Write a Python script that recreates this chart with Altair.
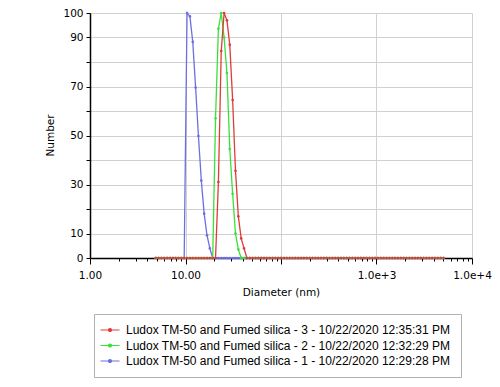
import altair as alt
import pandas as pd

# Size bins (nm), log-spaced
diameter_nm = [
    4.875, 5.222, 5.594, 5.991, 6.418, 6.874, 7.362, 7.886, 8.446, 9.047,
    9.691, 10.38, 11.12, 11.91, 12.76, 13.66, 14.64, 15.68, 16.79, 17.99,
    19.27, 20.63, 22.11, 23.67, 25.36, 27.16, 29.09, 31.16, 33.38, 35.75,
    38.30, 41.02, 43.94, 47.06, 50.42, 54.00, 57.84, 61.95, 66.36, 71.08,
    76.13, 81.55, 87.35, 93.57, 100.2, 107.4, 115.0, 123.2, 131.9, 141.3,
    151.4, 162.1, 173.7, 186.0, 199.3, 213.4, 228.6, 244.9, 262.3, 280.9,
    300.9, 322.3, 345.2, 369.8, 396.1, 424.2, 454.4, 486.7, 521.3, 558.5,
    598.2, 640.7, 686.3, 735.1, 787.4, 843.3, 903.3, 967.6, 1036, 1110,
    1189, 1274, 1364, 1461, 1565, 1676, 1796, 1923, 2060, 2207,
    2364, 2532, 2712, 2905, 3112, 3333, 3570, 3824, 4096, 4387,
    4699, 5033,
]

number_run1 = [
    0, 0, 0, 0, 0, 0, 0, 0, 0, 0,
    0, 100, 98.6, 88.2, 69.6, 49.8, 31.6, 18.1, 9.3, 3.9,
    0, 0, 0, 0, 0, 0, 0, 0, 0, 0,
    0, 0, 0, 0, 0, 0, 0, 0, 0, 0,
    0, 0, 0, 0, 0, 0, 0, 0, 0, 0,
    0, 0, 0, 0, 0, 0, 0, 0, 0, 0,
    0, 0, 0, 0, 0, 0, 0, 0, 0, 0,
    0, 0, 0, 0, 0, 0, 0, 0, 0, 0,
    0, 0, 0, 0, 0, 0, 0, 0, 0, 0,
    0, 0, 0, 0, 0, 0, 0, 0, 0, 0,
    0, 0,
]

number_run2 = [
    0, 0, 0, 0, 0, 0, 0, 0, 0, 0,
    0, 0, 0, 0, 0, 0, 0, 0, 0, 0,
    0, 57, 93.6, 100, 90, 75.5, 44.5, 26.2, 10, 3.5,
    0, 0, 0, 0, 0, 0, 0, 0, 0, 0,
    0, 0, 0, 0, 0, 0, 0, 0, 0, 0,
    0, 0, 0, 0, 0, 0, 0, 0, 0, 0,
    0, 0, 0, 0, 0, 0, 0, 0, 0, 0,
    0, 0, 0, 0, 0, 0, 0, 0, 0, 0,
    0, 0, 0, 0, 0, 0, 0, 0, 0, 0,
    0, 0, 0, 0, 0, 0, 0, 0, 0, 0,
    0, 0,
]

number_run3 = [
    0, 0, 0, 0, 0, 0, 0, 0, 0, 0,
    0, 0, 0, 0, 0, 0, 0, 0, 0, 0,
    0, 0, 31, 84.5, 100, 97, 87, 64.5, 35.6, 17,
    8, 3.9, 0, 0, 0, 0, 0, 0, 0, 0,
    0, 0, 0, 0, 0, 0, 0, 0, 0, 0,
    0, 0, 0, 0, 0, 0, 0, 0, 0, 0,
    0, 0, 0, 0, 0, 0, 0, 0, 0, 0,
    0, 0, 0, 0, 0, 0, 0, 0, 0, 0,
    0, 0, 0, 0, 0, 0, 0, 0, 0, 0,
    0, 0, 0, 0, 0, 0, 0, 0, 0, 0,
    0, 0,
]

series_names = [
    "Ludox TM-50 and Fumed silica - 1 - 10/22/2020 12:29:28 PM",
    "Ludox TM-50 and Fumed silica - 2 - 10/22/2020 12:32:29 PM",
    "Ludox TM-50 and Fumed silica - 3 - 10/22/2020 12:35:31 PM",
]
series_colors = ["#6e6ee2", "#3ae03a", "#e03a3a"]

x_tick_values = [1, 2, 3, 4, 5, 6, 7, 8, 9,
                 10, 20, 30, 40, 50, 60, 70, 80, 90,
                 100, 200, 300, 400, 500, 600, 700, 800, 900,
                 1000, 2000, 3000, 4000, 5000, 6000, 7000, 8000, 9000,
                 10000]
y_tick_values = [0, 10, 20, 30, 40, 50, 60, 70, 80, 90, 100]

rows = []
for name, vals in zip(series_names, [number_run1, number_run2, number_run3]):
    for d, v in zip(diameter_nm, vals):
        rows.append({"series": name, "Diameter": d, "Number": v})
df = pd.DataFrame(rows)

decade_test = "datum.value == 1 || datum.value == 10 || datum.value == 100 || datum.value == 1000 || datum.value == 10000"

x_axis = alt.Axis(
    title="Diameter (nm)",
    values=x_tick_values,
    labelExpr="datum.value == 1 ? '1.00' : datum.value == 10 ? '10.00' : datum.value == 1000 ? '1.0e+3' : datum.value == 10000 ? '1.0e+4' : ''",
    gridOpacity={"condition": {"test": decade_test, "value": 1}, "value": 0},
    tickSize={"condition": {"test": decade_test, "value": 6}, "value": 3},
    labelPadding=6,
    labelFlush=False,
    labelOverlap=False,
    titlePadding=7,
)

y_axis = alt.Axis(
    title="Number",
    values=y_tick_values,
    labelExpr="(datum.value == 20 || datum.value == 40 || datum.value == 60 || datum.value == 80) ? '' : datum.label",
    tickSize=4,
    labelPadding=3,
    titleX=-35,
    titleY=122,
)

chart = alt.Chart(df).mark_line(
    strokeWidth=1.3,
    point=alt.OverlayMarkDef(size=7, filled=True, opacity=1),
).encode(
    x=alt.X("Diameter:Q", scale=alt.Scale(type="log", domain=[1, 10000], nice=False), axis=x_axis),
    y=alt.Y("Number:Q", scale=alt.Scale(domain=[0, 100], nice=False), axis=y_axis),
    color=alt.Color(
        "series:N",
        scale=alt.Scale(domain=series_names[::-1], range=series_colors[::-1]),
        legend=alt.Legend(
            title=None,
            orient="none",
            legendX=4,
            legendY=301,
            padding=10,
            fillColor="white",
            strokeColor="#b0b0b0",
            labelFont="Liberation Sans",
            labelFontSize=12,
            labelColor="black",
            labelLimit=500,
            symbolType="M-1.9,0H1.9M-0.3,0a0.3,0.3 0 1,0 0.6,0a0.3,0.3 0 1,0 -0.6,0",
            symbolSize=100,
            symbolStrokeWidth=1.2,
            rowPadding=3.5,
            labelOffset=10,
        ),
    ),
    order=alt.Order("Diameter:Q"),
).properties(
    width=382,
    height=245,
    autosize=alt.AutoSizeParams(type="none"),
    padding={"left": 82, "top": 5, "right": 20, "bottom": 121},
).configure_view(
    strokeWidth=0
).configure_axis(
    labelFont="DejaVu Sans",
    labelFontSize=10.5,
    labelColor="black",
    titleFont="DejaVu Sans",
    titleFontSize=10.5,
    titleFontWeight="normal",
    titleColor="black",
    domainColor="black",
    domainWidth=1.5,
    tickColor="black",
    tickWidth=1,
    gridColor="#d0d0d0",
    gridWidth=1,
)

chart.save("out.html", embed_options={"renderer": "svg", "actions": False})
